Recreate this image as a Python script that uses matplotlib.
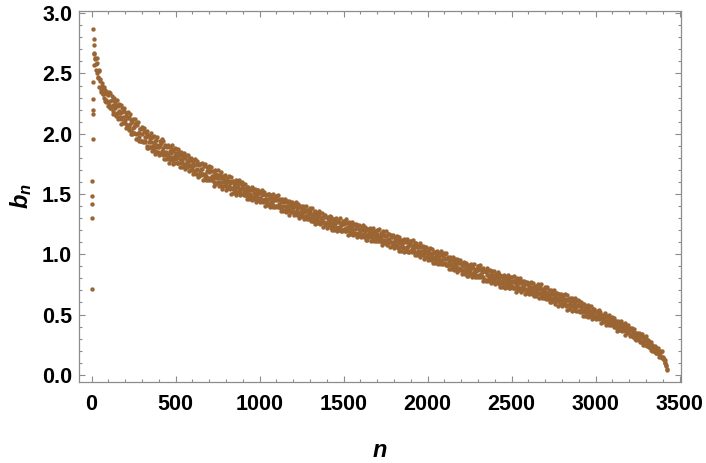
import numpy as np
import matplotlib
matplotlib.use("Agg")
import matplotlib.pyplot as plt
from matplotlib.ticker import MultipleLocator

# first few terms, scattered near n = 0
head_n = [1, 2, 3, 4, 5, 6, 7, 8, 9, 10, 11, 12, 13, 14]
head_b = [0.71, 1.30, 1.42, 1.48, 1.61, 1.96, 2.16, 2.20, 2.29, 2.43,
          2.87, 2.79, 2.74, 2.67]

# main band, read every 5th n (row k covers n = 100k ... 100k+95, row 0 starts at 15)
band_rows = [
    [2.66, 2.62, 2.58, 2.63, 2.50, 2.47, 2.52, 2.44, 2.36, 2.40, 2.33, 2.37, 2.30, 2.34, 2.28, 2.33, 2.26],
    [2.32, 2.24, 2.27, 2.21, 2.28, 2.24, 2.19, 2.28, 2.21, 2.24, 2.17, 2.23, 2.14, 2.19, 2.17, 2.12, 2.18, 2.14, 2.19, 2.10],
    [2.11, 2.15, 2.07, 2.13, 2.06, 2.14, 2.08, 2.02, 2.10, 2.05, 2.06, 2.01, 2.07, 2.00, 2.07, 2.01, 1.97, 2.01, 2.04, 1.94],
    [2.00, 1.94, 2.02, 1.97, 1.94, 1.97, 1.90, 1.99, 1.93, 1.96, 1.89, 1.93, 1.97, 1.90, 1.92, 1.86, 1.94, 1.89, 1.91, 1.89],
    [1.89, 1.91, 1.83, 1.92, 1.86, 1.88, 1.85, 1.91, 1.82, 1.85, 1.89, 1.83, 1.79, 1.86, 1.84, 1.81, 1.87, 1.78, 1.81, 1.82],
    [1.84, 1.79, 1.81, 1.76, 1.82, 1.79, 1.76, 1.82, 1.77, 1.80, 1.75, 1.80, 1.73, 1.77, 1.76, 1.73, 1.77, 1.74, 1.78, 1.72],
    [1.72, 1.76, 1.69, 1.74, 1.70, 1.75, 1.71, 1.67, 1.74, 1.69, 1.71, 1.67, 1.71, 1.67, 1.73, 1.67, 1.65, 1.69, 1.70, 1.63],
    [1.68, 1.63, 1.69, 1.65, 1.63, 1.65, 1.60, 1.67, 1.63, 1.65, 1.60, 1.63, 1.66, 1.60, 1.63, 1.57, 1.64, 1.60, 1.62, 1.60],
    [1.59, 1.61, 1.55, 1.61, 1.57, 1.59, 1.55, 1.61, 1.54, 1.57, 1.59, 1.55, 1.52, 1.58, 1.56, 1.53, 1.59, 1.52, 1.54, 1.55],
    [1.56, 1.51, 1.53, 1.49, 1.54, 1.52, 1.48, 1.54, 1.50, 1.53, 1.48, 1.53, 1.47, 1.51, 1.49, 1.46, 1.51, 1.48, 1.51, 1.46],
    [1.47, 1.51, 1.44, 1.49, 1.45, 1.50, 1.46, 1.43, 1.49, 1.45, 1.46, 1.42, 1.47, 1.43, 1.47, 1.43, 1.41, 1.45, 1.46, 1.40],
    [1.45, 1.40, 1.45, 1.42, 1.40, 1.43, 1.38, 1.44, 1.40, 1.43, 1.37, 1.40, 1.43, 1.38, 1.40, 1.36, 1.42, 1.38, 1.40, 1.38],
    [1.38, 1.40, 1.35, 1.40, 1.36, 1.38, 1.34, 1.39, 1.33, 1.36, 1.38, 1.34, 1.32, 1.37, 1.35, 1.32, 1.37, 1.31, 1.33, 1.34],
    [1.34, 1.30, 1.33, 1.28, 1.33, 1.31, 1.29, 1.34, 1.29, 1.32, 1.28, 1.32, 1.27, 1.30, 1.29, 1.27, 1.31, 1.27, 1.31, 1.26],
    [1.26, 1.29, 1.25, 1.28, 1.24, 1.29, 1.26, 1.23, 1.27, 1.24, 1.26, 1.23, 1.27, 1.22, 1.27, 1.23, 1.22, 1.24, 1.25, 1.20],
    [1.25, 1.21, 1.26, 1.22, 1.20, 1.23, 1.19, 1.24, 1.20, 1.23, 1.19, 1.21, 1.24, 1.18, 1.21, 1.17, 1.22, 1.18, 1.21, 1.19],
    [1.19, 1.21, 1.16, 1.20, 1.17, 1.19, 1.16, 1.21, 1.15, 1.17, 1.19, 1.16, 1.14, 1.18, 1.17, 1.14, 1.19, 1.13, 1.15, 1.16],
    [1.17, 1.13, 1.15, 1.11, 1.16, 1.14, 1.12, 1.17, 1.12, 1.15, 1.11, 1.15, 1.10, 1.13, 1.12, 1.10, 1.14, 1.10, 1.14, 1.09],
    [1.09, 1.12, 1.08, 1.11, 1.07, 1.12, 1.09, 1.06, 1.10, 1.07, 1.09, 1.06, 1.10, 1.05, 1.10, 1.06, 1.05, 1.07, 1.08, 1.03],
    [1.08, 1.04, 1.08, 1.05, 1.03, 1.06, 1.01, 1.06, 1.03, 1.06, 1.01, 1.03, 1.06, 1.01, 1.03, 0.99, 1.04, 1.01, 1.03, 1.01],
    [1.00, 1.02, 0.97, 1.01, 0.98, 1.00, 0.97, 1.02, 0.96, 0.98, 1.00, 0.97, 0.95, 0.99, 0.98, 0.95, 1.00, 0.94, 0.96, 0.97],
    [0.97, 0.93, 0.96, 0.91, 0.96, 0.94, 0.91, 0.96, 0.92, 0.95, 0.90, 0.94, 0.89, 0.93, 0.91, 0.89, 0.93, 0.89, 0.93, 0.88],
    [0.88, 0.91, 0.87, 0.90, 0.86, 0.91, 0.88, 0.85, 0.89, 0.86, 0.88, 0.85, 0.89, 0.84, 0.89, 0.85, 0.84, 0.86, 0.87, 0.82],
    [0.87, 0.83, 0.88, 0.84, 0.82, 0.85, 0.81, 0.86, 0.79, 0.85, 0.78, 0.83, 0.86, 0.80, 0.83, 0.79, 0.84, 0.80, 0.83, 0.81],
    [0.80, 0.82, 0.77, 0.81, 0.78, 0.80, 0.77, 0.82, 0.76, 0.78, 0.80, 0.77, 0.75, 0.79, 0.78, 0.75, 0.80, 0.74, 0.76, 0.77],
    [0.78, 0.74, 0.77, 0.72, 0.77, 0.75, 0.73, 0.78, 0.73, 0.76, 0.72, 0.76, 0.71, 0.74, 0.73, 0.71, 0.75, 0.71, 0.75, 0.70],
    [0.71, 0.74, 0.70, 0.73, 0.70, 0.73, 0.71, 0.69, 0.72, 0.69, 0.71, 0.68, 0.72, 0.68, 0.71, 0.68, 0.67, 0.69, 0.70, 0.66],
    [0.69, 0.65, 0.68, 0.66, 0.65, 0.67, 0.63, 0.67, 0.64, 0.67, 0.62, 0.64, 0.66, 0.63, 0.64, 0.61, 0.65, 0.62, 0.64, 0.62],
    [0.62, 0.64, 0.60, 0.63, 0.60, 0.62, 0.58, 0.62, 0.58, 0.60, 0.61, 0.58, 0.57, 0.61, 0.59, 0.56, 0.60, 0.56, 0.57, 0.58],
    [0.58, 0.54, 0.56, 0.53, 0.57, 0.54, 0.52, 0.56, 0.52, 0.55, 0.51, 0.55, 0.50, 0.53, 0.52, 0.49, 0.53, 0.50, 0.52, 0.48],
    [0.49, 0.52, 0.47, 0.51, 0.48, 0.50, 0.48, 0.46, 0.49, 0.46, 0.48, 0.45, 0.48, 0.45, 0.48, 0.44, 0.43, 0.46, 0.46, 0.42],
    [0.45, 0.41, 0.44, 0.42, 0.41, 0.42, 0.39, 0.43, 0.40, 0.42, 0.38, 0.40, 0.41, 0.38, 0.40, 0.36, 0.40, 0.37, 0.39, 0.37],
    [0.36, 0.38, 0.33, 0.37, 0.33, 0.35, 0.32, 0.35, 0.31, 0.32, 0.34, 0.30, 0.29, 0.33, 0.31, 0.28, 0.31, 0.27, 0.28, 0.29],
    [0.29, 0.25, 0.27, 0.23, 0.26, 0.24, 0.22, 0.25, 0.21, 0.23, 0.20, 0.23, 0.18, 0.21, 0.19, 0.17, 0.19, 0.16, 0.19, 0.15],
    [0.15, 0.13, 0.12, 0.10, 0.07, 0.04],
]

# outer points of the band, read at n = 100k+2, 100k+7, ... (row 0 starts at 17)
edge_rows = [
    [2.57, 2.63, 2.53, 2.59, 2.46, 2.53, 2.39, 2.45, 2.35, 2.42, 2.33, 2.39, 2.27, 2.36, 2.26, 2.35, 2.23],
    [2.35, 2.21, 2.34, 2.22, 2.31, 2.16, 2.30, 2.16, 2.26, 2.15, 2.28, 2.12, 2.25, 2.14, 2.24, 2.08, 2.21, 2.09, 2.21, 2.09],
    [2.05, 2.17, 2.07, 2.18, 2.03, 2.16, 2.00, 2.11, 2.00, 2.12, 2.01, 2.12, 1.96, 2.09, 1.96, 2.10, 1.94, 2.04, 1.94, 2.06],
    [2.05, 1.93, 2.05, 1.93, 2.01, 1.88, 2.02, 1.88, 1.98, 1.89, 2.01, 1.86, 1.97, 1.88, 1.98, 1.83, 1.95, 1.85, 1.97, 1.85],
    [1.82, 1.94, 1.84, 1.96, 1.82, 1.94, 1.79, 1.90, 1.79, 1.90, 1.81, 1.91, 1.76, 1.89, 1.78, 1.91, 1.75, 1.86, 1.76, 1.88],
    [1.87, 1.76, 1.87, 1.76, 1.85, 1.72, 1.85, 1.72, 1.82, 1.73, 1.84, 1.71, 1.82, 1.72, 1.82, 1.69, 1.80, 1.70, 1.80, 1.70],
    [1.67, 1.78, 1.68, 1.79, 1.67, 1.77, 1.64, 1.75, 1.65, 1.75, 1.66, 1.76, 1.62, 1.74, 1.64, 1.75, 1.62, 1.72, 1.62, 1.73],
    [1.72, 1.62, 1.72, 1.62, 1.69, 1.57, 1.70, 1.58, 1.67, 1.59, 1.70, 1.57, 1.66, 1.59, 1.68, 1.54, 1.65, 1.57, 1.66, 1.57],
    [1.53, 1.63, 1.55, 1.65, 1.54, 1.64, 1.50, 1.60, 1.51, 1.61, 1.53, 1.62, 1.49, 1.60, 1.51, 1.62, 1.49, 1.58, 1.50, 1.60],
    [1.58, 1.49, 1.58, 1.49, 1.56, 1.46, 1.56, 1.46, 1.54, 1.47, 1.56, 1.45, 1.54, 1.47, 1.54, 1.43, 1.53, 1.45, 1.53, 1.45],
    [1.43, 1.52, 1.45, 1.53, 1.43, 1.52, 1.40, 1.49, 1.41, 1.50, 1.42, 1.50, 1.39, 1.49, 1.40, 1.50, 1.39, 1.47, 1.39, 1.48],
    [1.48, 1.39, 1.49, 1.39, 1.46, 1.36, 1.46, 1.36, 1.44, 1.37, 1.46, 1.35, 1.44, 1.37, 1.44, 1.33, 1.43, 1.35, 1.43, 1.35],
    [1.33, 1.42, 1.35, 1.43, 1.33, 1.42, 1.30, 1.39, 1.31, 1.40, 1.32, 1.40, 1.29, 1.39, 1.30, 1.40, 1.29, 1.37, 1.29, 1.38],
    [1.37, 1.28, 1.38, 1.28, 1.35, 1.25, 1.36, 1.26, 1.33, 1.26, 1.36, 1.25, 1.34, 1.26, 1.34, 1.23, 1.33, 1.24, 1.33, 1.25],
    [1.22, 1.31, 1.24, 1.32, 1.22, 1.31, 1.20, 1.29, 1.20, 1.29, 1.22, 1.30, 1.19, 1.28, 1.20, 1.30, 1.19, 1.26, 1.19, 1.28],
    [1.28, 1.19, 1.29, 1.19, 1.26, 1.16, 1.27, 1.17, 1.24, 1.17, 1.27, 1.16, 1.25, 1.17, 1.25, 1.14, 1.24, 1.15, 1.24, 1.16],
    [1.14, 1.23, 1.16, 1.24, 1.14, 1.23, 1.12, 1.21, 1.12, 1.21, 1.14, 1.22, 1.11, 1.20, 1.12, 1.22, 1.11, 1.18, 1.11, 1.20],
    [1.20, 1.11, 1.21, 1.11, 1.18, 1.08, 1.19, 1.09, 1.16, 1.09, 1.19, 1.08, 1.17, 1.09, 1.17, 1.06, 1.16, 1.07, 1.16, 1.08],
    [1.05, 1.14, 1.07, 1.15, 1.05, 1.14, 1.03, 1.12, 1.03, 1.12, 1.05, 1.13, 1.02, 1.11, 1.03, 1.13, 1.02, 1.09, 1.02, 1.11],
    [1.11, 1.02, 1.12, 1.02, 1.09, 0.99, 1.09, 0.99, 1.07, 1.00, 1.09, 0.98, 1.07, 1.00, 1.07, 0.96, 1.06, 0.98, 1.06, 0.98],
    [0.95, 1.04, 0.97, 1.05, 0.95, 1.04, 0.93, 1.02, 0.93, 1.02, 0.95, 1.03, 0.92, 1.01, 0.93, 1.03, 0.92, 0.99, 0.92, 1.01],
    [1.00, 0.91, 1.01, 0.91, 0.98, 0.88, 0.98, 0.88, 0.96, 0.89, 0.98, 0.87, 0.96, 0.89, 0.96, 0.85, 0.95, 0.87, 0.95, 0.87],
    [0.84, 0.93, 0.86, 0.94, 0.84, 0.93, 0.82, 0.91, 0.82, 0.91, 0.84, 0.92, 0.81, 0.90, 0.82, 0.92, 0.81, 0.88, 0.81, 0.90],
    [0.90, 0.81, 0.91, 0.81, 0.88, 0.78, 0.89, 0.79, 0.86, 0.79, 0.89, 0.78, 0.87, 0.79, 0.87, 0.76, 0.86, 0.77, 0.86, 0.78],
    [0.75, 0.84, 0.77, 0.85, 0.75, 0.84, 0.73, 0.82, 0.73, 0.82, 0.75, 0.83, 0.72, 0.81, 0.73, 0.83, 0.72, 0.79, 0.72, 0.81],
    [0.81, 0.72, 0.82, 0.72, 0.79, 0.69, 0.80, 0.70, 0.77, 0.70, 0.80, 0.69, 0.78, 0.70, 0.78, 0.67, 0.77, 0.68, 0.77, 0.69],
    [0.67, 0.76, 0.69, 0.77, 0.67, 0.76, 0.65, 0.74, 0.65, 0.74, 0.67, 0.75, 0.64, 0.73, 0.65, 0.75, 0.64, 0.71, 0.64, 0.73],
    [0.72, 0.63, 0.73, 0.63, 0.70, 0.60, 0.70, 0.60, 0.68, 0.61, 0.70, 0.59, 0.68, 0.61, 0.68, 0.57, 0.67, 0.59, 0.67, 0.59],
    [0.57, 0.66, 0.59, 0.67, 0.57, 0.66, 0.54, 0.63, 0.55, 0.64, 0.56, 0.64, 0.53, 0.63, 0.54, 0.64, 0.53, 0.61, 0.53, 0.62],
    [0.61, 0.52, 0.60, 0.52, 0.59, 0.49, 0.59, 0.49, 0.57, 0.49, 0.58, 0.48, 0.56, 0.49, 0.57, 0.46, 0.55, 0.47, 0.55, 0.47],
    [0.46, 0.53, 0.47, 0.54, 0.46, 0.52, 0.43, 0.50, 0.44, 0.50, 0.45, 0.51, 0.41, 0.49, 0.43, 0.50, 0.41, 0.47, 0.41, 0.48],
    [0.47, 0.40, 0.47, 0.40, 0.45, 0.36, 0.45, 0.37, 0.43, 0.37, 0.45, 0.36, 0.42, 0.37, 0.43, 0.33, 0.41, 0.35, 0.41, 0.35],
    [0.32, 0.39, 0.33, 0.39, 0.31, 0.38, 0.30, 0.35, 0.29, 0.35, 0.30, 0.35, 0.27, 0.34, 0.27, 0.34, 0.25, 0.31, 0.25, 0.32],
    [0.30, 0.24, 0.29, 0.23, 0.27, 0.21, 0.27, 0.20, 0.24, 0.20, 0.24, 0.18, 0.22, 0.18, 0.22, 0.15, 0.20, 0.15, 0.20, 0.14],
    [0.14, 0.12, 0.10, 0.08, 0.05],
]


def rows_to_points(rows, first, shift):
    xs, ys = [], []
    for k, row in enumerate(rows):
        start = first if k == 0 else 100 * k + shift
        for j, v in enumerate(row):
            xs.append(start + 5 * j)
            ys.append(v)
    return xs, ys


band_n, band_b = rows_to_points(band_rows, 15, 0)
edge_n, edge_b = rows_to_points(edge_rows, 17, 2)

n = np.array(head_n + band_n + edge_n)
b = np.array(head_b + band_b + edge_b)

dot_color = "#9a6533"
frame_color = "#8c8c8c"

plt.rcParams["font.family"] = ["Liberation Sans", "DejaVu Sans"]
plt.rcParams["font.weight"] = "bold"
plt.rcParams["mathtext.fontset"] = "custom"
plt.rcParams["mathtext.it"] = "Liberation Sans:italic:bold"
plt.rcParams["mathtext.rm"] = "Liberation Sans:bold"

fig = plt.figure(figsize=(7.06, 4.63), dpi=100)
ax = fig.add_axes([0.1119, 0.1756, 0.8527, 0.8006])

ax.scatter(n, b, s=10, color=dot_color, linewidths=0)

ax.set_xlim(-75, 3508)
ax.set_ylim(-0.057, 3.018)

ax.xaxis.set_major_locator(MultipleLocator(500))
ax.xaxis.set_minor_locator(MultipleLocator(100))
ax.yaxis.set_major_locator(MultipleLocator(0.5))
ax.yaxis.set_minor_locator(MultipleLocator(0.1))
ax.yaxis.set_major_formatter(plt.FormatStrFormatter("%.1f"))

for s in ax.spines.values():
    s.set_color(frame_color)
    s.set_linewidth(0.9)

ax.tick_params(which="both", direction="in", top=True, right=True, color=frame_color, width=0.8)
ax.tick_params(which="major", length=4.5)
ax.tick_params(which="minor", length=2.2)
ax.tick_params(axis="x", which="major", pad=9, labelsize=15.5)
ax.tick_params(axis="y", which="major", pad=5, labelsize=15.5)

ax.set_xlabel("$n$", fontsize=17, labelpad=18)
ax.set_ylabel("$b_n$", fontsize=17, labelpad=6)

plt.savefig("out.png", dpi=100)
plt.close()
